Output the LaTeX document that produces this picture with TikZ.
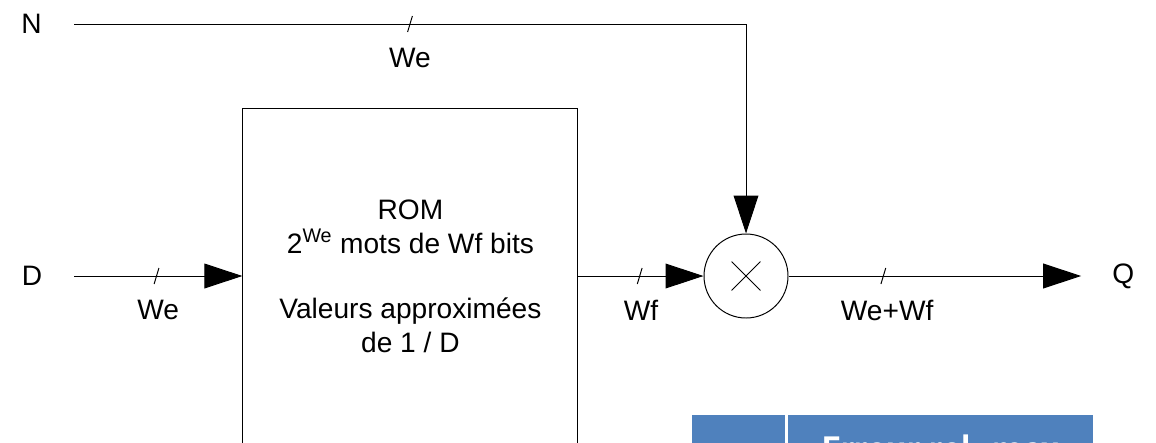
\documentclass[tikz,border=0pt]{standalone}
\usepackage{fontspec}
\setmainfont{Liberation Sans}
\newfontfamily\tablefont{Carlito}
\usepackage{tikz}
\usetikzlibrary{arrows.meta, positioning}
\definecolor{tableblue}{RGB}{79, 129, 189}

\begin{document}
\begin{tikzpicture}[every node/.style={font=\fontsize{20}{24.2}\selectfont}, align=center]
  % Styles
  \tikzstyle{wire} = [line width=0.7pt, black]
  \tikzstyle{arrow} = [wire, -{Triangle[length=0.95cm, width=0.62cm]}]
  \tikzstyle{rombox} = [rectangle, draw, wire, minimum width=8.375cm, minimum height=8.4cm]
  \tikzstyle{cell} = [rectangle, fill=tableblue, inner sep=0pt, minimum height=1.5cm, anchor=north west]
  \tikzset{pics/busmark/.style={code={\draw[wire, -] (-0.06,-0.2) -- (0.06,0.2);}}}

  \useasboundingbox (0,0) rectangle (28.9,-11.05);
  \clip (0,0) rectangle (28.9,-11.05);

  % Inputs and output
  \node (nlab) at (0.79,-0.6) {N};
  \node (dlab) at (0.8,-6.9) {D};
  \node (qlab) at (28.08,-6.92) {Q};
  \coordinate (nstart) at (1.85,-0.6);
  \coordinate (ncorner) at (18.65,-0.6);
  \coordinate (dstart) at (1.85,-6.9);
  \coordinate (qend) at (27.03,-6.9);

  % ROM
  \node (rom) [rombox] at (10.26,-6.9) {ROM\\2\textsuperscript{We} mots de Wf bits\\[22pt]Valeurs approximées\\de 1 / D};

  % Multiplier
  \node (mult) [circle, draw, wire, minimum size=2.1cm, inner sep=0pt] at (18.65,-6.9) {};
  \draw [wire] ([shift={(-0.36,-0.36)}]mult.center) -- ([shift={(0.36,0.36)}]mult.center);
  \draw [wire] ([shift={(-0.36,0.36)}]mult.center) -- ([shift={(0.36,-0.36)}]mult.center);

  % Connections
  \draw [wire] (nstart) -- pic[pos=0.5]{busmark} node[pos=0.5, yshift=-0.85cm]{We} (ncorner);
  \draw [arrow] (ncorner) -- (mult.north);
  \draw [arrow] (dstart) -- pic[pos=0.49]{busmark} node[pos=0.5, yshift=-0.85cm]{We} (rom.west);
  \draw [arrow] (rom.east) -- pic[pos=0.49]{busmark} node[pos=0.5, yshift=-0.85cm]{Wf} (mult.west);
  \draw [arrow] (mult.east) -- pic[pos=0.324]{busmark} node[pos=0.337, yshift=-0.85cm]{We+Wf} (qend);

  % Table
  \node (colA) [cell, minimum width=2.325cm] at (17.3,-10.375) {};
  \node (colB) [cell, minimum width=7.625cm] at (19.7,-10.375) {};
  \node (errhead) [anchor=base, text=white, font=\tablefont\bfseries\fontsize{27}{32}\selectfont] at ([yshift=-1.16cm]colB.north) {Erreur rel. max};
\end{tikzpicture}
\end{document}
